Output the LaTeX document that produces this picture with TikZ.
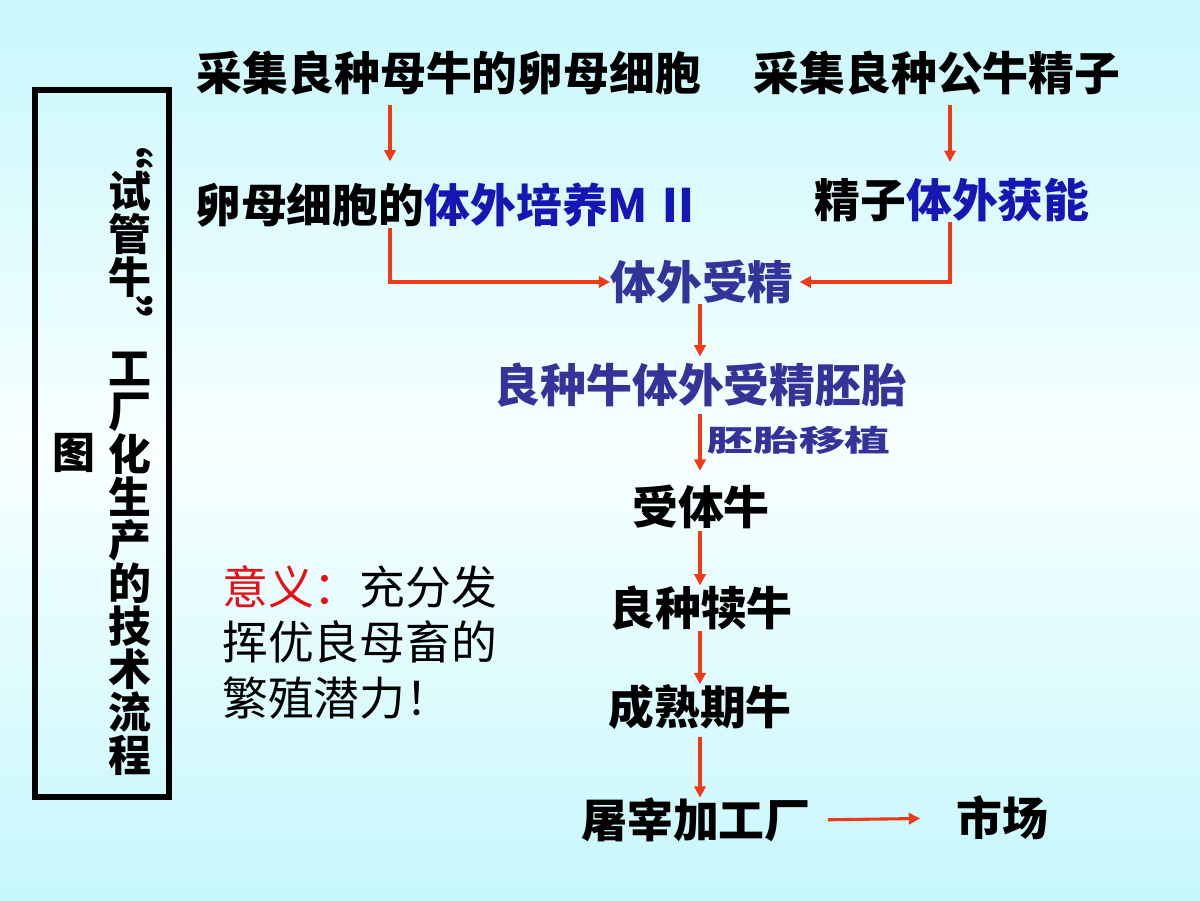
\documentclass[tikz,border=0pt]{standalone}
\usepackage{fontspec}
\setmainfont{Noto Sans CJK SC}
\usetikzlibrary{arrows.meta,calc}
\definecolor{bgtop}{RGB}{200,247,252}
\definecolor{bgmid}{RGB}{248,255,255}
\definecolor{bgbot}{RGB}{198,247,252}
\definecolor{blueA}{RGB}{22,22,180}
\definecolor{blueB}{RGB}{51,51,153}
\definecolor{redA}{RGB}{228,18,24}
\definecolor{arrowc}{RGB}{238,58,22}
\begin{document}
\begin{tikzpicture}[x=0.025cm,y=-0.025cm,
  txt/.style={inner sep=0pt,font=\fontsize{32.6pt}{39pt}\selectfont\bfseries},
  plain/.style={inner sep=0pt,font=\fontsize{32.6pt}{39pt}\selectfont},
  coltxt/.style={inner sep=0pt,align=center,font=\fontsize{30.5pt}{30.6pt}\selectfont\bfseries},
  quot/.style={inner sep=0pt,font=\fontsize{36pt}{36pt}\selectfont\bfseries},
  lbl/.style={inner sep=0pt,text=blueB,xscale=1.55,font=\fontsize{21pt}{24pt}\selectfont\bfseries},
  arr/.style={draw=arrowc,line width=2.2pt,-{Triangle[length=8pt,width=8pt]}}]
\useasboundingbox (0,0) rectangle (1200,900);
\shade[top color=bgtop,bottom color=bgbot,middle color=bgmid] (0,0) rectangle (1200,900);

% left title box
\draw[line width=4.3pt] (35,90) rectangle (169,797);
\node[coltxt] (t1) at (130,234) {试\\管\\牛};
\node[quot,rotate=-90] (q1) at (131,144) {“};
\node[quot,rotate=-90] (q2) at (131,321) {”};
\node[coltxt] (t2) at (130,564) {工\\厂\\化\\生\\产\\的\\技\\术\\流\\程};
\node[coltxt] (t3) at (74,453) {图};

% column guides
\coordinate (colL) at (390,0);
\coordinate (colR) at (950,0);
\coordinate (colM) at (700,0);

% nodes
\node[txt] (n1) at (449,73) {采集良种母牛的卵母细胞};
\node[txt] (n2) at (937,73) {采集良种公牛精子};
\node[txt,anchor=west] (n3) at (195,205) {卵母细胞的\textcolor{blueA}{体外培养M\,Ⅱ}};
\node[txt] (n4) at (952,200) {精子\textcolor{blueA}{体外获能}};
\node[txt,text=blueB] (n5) at (702,282) {体外受精};
\node[txt,text=blueB] (n6) at (701,385) {良种牛体外受精胚胎};
\node[lbl] (l1) at (799,440) {胚胎移植};
\node[txt] (n7) at (701,507) {受体牛};
\node[txt] (n8) at (701,608) {良种犊牛};
\node[txt] (n9) at (700,707) {成熟期牛};
\node[txt] (n10) at (696,820) {屠宰加工厂};
\node[txt] (n11) at (1002,818) {市场};

% significance text
\node[plain,anchor=west] (s1) at (222,587) {\textcolor{redA}{意义：}充分发};
\node[plain,anchor=west] (s2) at (222,642) {挥优良母畜的};
\node[plain,anchor=west] (s3) at (222,698) {繁殖潜力！};

% connectors
\draw[arr,shorten <=6.4pt,shorten >=15pt] (n1.south -| colL) -- (n3.north -| colL);
\draw[arr,shorten <=6.4pt,shorten >=11.3pt] (n2.south -| colR) -- (n4.north -| colR);
\draw[arr] (n3.south -| colL) |- (n5.west);
\draw[arr,shorten >=4pt] (n4.south -| colR) |- (n5.east);
\draw[arr,shorten >=4.3pt] (n5.south -| colM) -- (n6.north -| colM);
\draw[arr,shorten <=4.3pt,shorten >=10pt] (n6.south -| colM) -- (n7.north -| colM);
\draw[arr,shorten <=1.4pt] (n7.south -| colM) -- (n8.north -| colM);
\draw[arr] (n8.south -| colM) -- (n9.north -| colM);
\draw[arr,shorten <=5pt] (n9.south -| colM) -- (n10.north -| colM);
\draw[arr,shorten <=12pt,shorten >=25.5pt] (n10.east) -- (n11.west);
\end{tikzpicture}
\end{document}
